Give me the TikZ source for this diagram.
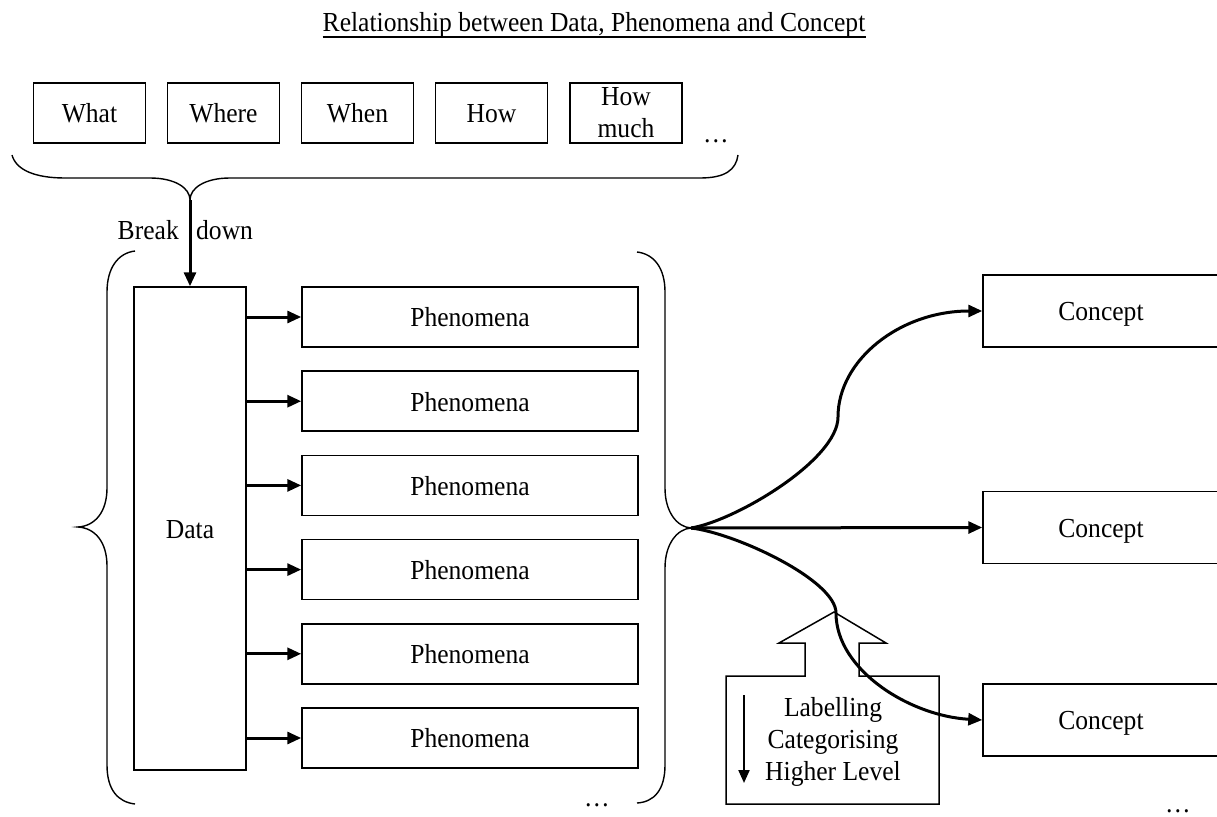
\documentclass[tikz,border=0pt]{standalone}
\usepackage{fontspec}
\setmainfont{Liberation Serif}[FakeStretch=0.93]
\usetikzlibrary{arrows.meta}

\newcommand{\diagfont}{\fontsize{27.5}{32}\selectfont}

\begin{document}
\begin{tikzpicture}[x=1pt, y=-1pt,
  txt/.style={font=\diagfont, inner sep=0pt},
  plainbox/.style={draw, line width=1.5pt, rectangle, inner sep=0pt, font=\diagfont},
  box/.style={plainbox, text height=19.8pt, text depth=0pt},
  qbox/.style={box, minimum width=112pt, minimum height=60pt},
  phbox/.style={box, minimum width=336pt, minimum height=60pt},
  cbox/.style={box, minimum width=236pt, minimum height=72pt},
  brace/.style={line width=1.4pt},
  arr/.style={line width=3pt, -{Triangle[length=14pt,width=12pt]}},
  smallarr/.style={line width=2.2pt, -{Triangle[length=13pt,width=11pt]}}
]
\useasboundingbox (0,0) rectangle (1217,816);

% title
\node[txt, anchor=base] (title) at (594,32) {Relationship between Data, Phenomena and Concept};
\draw[line width=1.8pt] ([yshift=-5pt]title.base west) -- ([yshift=-5pt]title.base east);

% question boxes
\node[qbox] (what)  at (89.5,113)  {What};
\node[qbox] (where) at (223.5,113) {Where};
\node[qbox] (when)  at (357.5,113) {When};
\node[qbox] (how)   at (491.5,113) {How};
\node[plainbox, minimum width=112pt, minimum height=60pt, align=center] (howmuch) at (626,113) {How\\much};
\node[txt, anchor=base] (qdots) at (716,142) {…};

% brace gathering the questions
\coordinate (bt) at (190,200);
\draw[brace] (12,155) .. controls (16,170) and (35,178) .. (65,178) -- (150,178)
  .. controls (175,178) and (190,188) .. (bt)
  .. controls (190,188) and (205,178) .. (230,178) -- (700,178)
  .. controls (725,178) and (736,170) .. (738,155);

% data and phenomena
\node[box, minimum width=112pt, minimum height=483pt] (data) at (190,528.5) {Data};
\draw[arr] (bt) -- (data.north);
\node[txt, anchor=base east] (break) at (179,239) {Break};
\node[txt, anchor=base west] (down) at (196,239) {down};

\foreach \i in {1,...,6} {
  \node[phbox] (ph\i) at (470,{317+84.2*(\i-1)}) {Phenomena};
  \draw[arr] (data.east |- ph\i.west) -- (ph\i.west);
}
\node[txt, anchor=base] (phdots) at (597,806) {…};

% brace around data and phenomena, left side
\coordinate (lt) at (78,527);
\draw[brace] (135,251) .. controls (118,253) and (107,268) .. (107,292) -- (107,488)
  .. controls (107,512) and (95,526) .. (lt)
  .. controls (95,528) and (107,542) .. (107,566) -- (107,765)
  .. controls (107,790) and (118,802) .. (135,804);

% brace around data and phenomena, right side
\coordinate (rt) at (691,528);
\draw[brace] (637,252) .. controls (654,254) and (665,268) .. (665,292) -- (665,488)
  .. controls (665,512) and (677,527) .. (rt)
  .. controls (677,529) and (665,544) .. (665,568) -- (665,765)
  .. controls (665,790) and (654,802) .. (637,803);

% concepts
\node[cbox] (c1) at (1101,311) {Concept};
\node[cbox] (c2) at (1101,527.5) {Concept};
\node[cbox] (c3) at (1101,720) {Concept};
\node[txt, anchor=base] (cdots) at (1178,812) {…};

% labelling box with hollow arrow
\draw[line width=1.5pt] (726,676) -- (805,676) -- (805,643) -- (779,643) -- (834,612)
  -- (886,643) -- (859,643) -- (859,676) -- (939,676) -- (939,804) -- (726,804) -- cycle;
\node[txt, align=center] (lbl) at (833,742) {Labelling\\Categorising\\Higher Level};
\coordinate (la) at (744,695);
\coordinate (lb) at (744,783);
\draw[smallarr] (la) -- (lb);

% connectors to the concepts
\draw[arr] (rt) .. controls (735,521) and (838,460) .. (838,417)
  .. controls (838,360) and (900,311) .. (c1.west);
\draw[arr] (rt) -- (c2.west);
\draw[arr] (rt) .. controls (735,533) and (836,580) .. (836,613)
  .. controls (836,670) and (910,716) .. (c3.west);
\end{tikzpicture}
\end{document}
